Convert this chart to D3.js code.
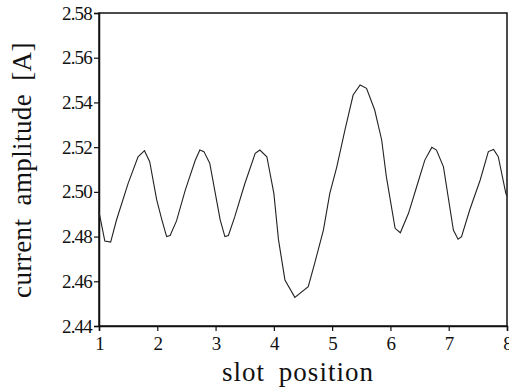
<!DOCTYPE html>
<html>
<head>
<meta charset="utf-8">
<script src="https://cdn.jsdelivr.net/npm/d3@7"></script>
<style>
  html, body { margin: 0; padding: 0; background: #fff; }
  svg { display: block; }
</style>
</head>
<body>
<svg></svg>
<script>
// values
const slotPos = [
  1.00, 1.10, 1.20, 1.30, 1.50, 1.67, 1.78, 1.87, 1.99, 2.08,
  2.16, 2.22, 2.33, 2.48, 2.65, 2.73, 2.80, 2.90, 3.08, 3.16,
  3.22, 3.33, 3.50, 3.68, 3.76, 3.88, 4.00, 4.08, 4.19, 4.36,
  4.59, 4.70, 4.85, 4.96, 5.08, 5.22, 5.36, 5.48, 5.59, 5.73,
  5.85, 5.93, 6.08, 6.17, 6.31, 6.45, 6.59, 6.71, 6.79, 6.91,
  7.08, 7.16, 7.22, 7.36, 7.54, 7.68, 7.77, 7.85, 7.98, 8.00
];
const amplitude = [
  2.4910, 2.4780, 2.4775, 2.4874, 2.5038, 2.5157, 2.5184, 2.5135, 2.4964, 2.4874,
  2.4800, 2.4805, 2.4870, 2.5008, 2.5140, 2.5187, 2.5180, 2.5128, 2.4874, 2.4800,
  2.4805, 2.4889, 2.5035, 2.5172, 2.5187, 2.5157, 2.4993, 2.4785, 2.4606, 2.4528,
  2.4576, 2.4680, 2.4829, 2.4993, 2.5112, 2.5277, 2.5433, 2.5478, 2.5463, 2.5366,
  2.5232, 2.5068, 2.4837, 2.4817, 2.4904, 2.5023, 2.5142, 2.5199, 2.5187, 2.5112,
  2.4829, 2.4788, 2.4800, 2.4919, 2.5053, 2.5180, 2.5190, 2.5157, 2.4993, 2.4980
];
const xTicks = [1, 2, 3, 4, 5, 6, 7, 8];
const yTicks = [2.44, 2.46, 2.48, 2.50, 2.52, 2.54, 2.56, 2.58];

const width = 509;
const height = 392;
const plotLeft = 99, plotRight = 507, plotTop = 13, plotBottom = 326;
const serif = '"Liberation Serif", "DejaVu Serif", serif';

const data = slotPos.map((x, i) => ({ x: x, y: amplitude[i] }));

const xScale = d3.scaleLinear()
  .domain([1, 8])
  .range([plotLeft, plotRight]);

const yScale = d3.scaleLinear()
  .domain([2.44, 2.58])
  .range([plotBottom, plotTop]);

const svg = d3.select('svg')
  .attr('width', width)
  .attr('height', height);

// frame
svg.append('rect')
  .attr('x', plotLeft)
  .attr('y', plotTop)
  .attr('width', plotRight - plotLeft)
  .attr('height', plotBottom - plotTop)
  .attr('fill', 'none')
  .attr('stroke', '#111')
  .attr('stroke-width', 1.5);

const xAxis = svg.append('g')
  .attr('transform', `translate(0,${plotBottom})`)
  .call(d3.axisBottom(xScale).tickValues(xTicks).tickSize(5).tickPadding(6).tickFormat(d3.format('d')));

const yAxis = svg.append('g')
  .attr('transform', `translate(${plotLeft},0)`)
  .call(d3.axisLeft(yScale).tickValues(yTicks).tickSize(5).tickPadding(2).tickFormat(d3.format('.2f')));

[xAxis, yAxis].forEach((g) => {
  g.attr('font-family', serif).attr('font-size', 19);
  g.select('.domain').attr('stroke', '#111').attr('stroke-width', 1.5);
  g.selectAll('.tick line').attr('stroke', '#111').attr('stroke-width', 1.2);
  g.selectAll('.tick text')
    .attr('fill', '#111')
    .attr('letter-spacing', '-0.8');
});

// the curve
const line = d3.line()
  .x((d) => xScale(d.x))
  .y((d) => yScale(d.y));

svg.append('path')
  .datum(data)
  .attr('fill', 'none')
  .attr('stroke', '#222')
  .attr('stroke-width', 1.1)
  .attr('d', line);

// axis titles
svg.append('text')
  .attr('x', 298)
  .attr('y', 381)
  .attr('text-anchor', 'middle')
  .attr('font-family', serif)
  .attr('font-size', 27)
  .attr('letter-spacing', 1)
  .attr('word-spacing', 6)
  .attr('fill', '#111')
  .text('slot position');

svg.append('text')
  .attr('transform', 'translate(31,170) rotate(-90)')
  .attr('text-anchor', 'middle')
  .attr('font-family', serif)
  .attr('font-size', 27)
  .attr('letter-spacing', 0.4)
  .attr('word-spacing', 6)
  .attr('fill', '#111')
  .text('current amplitude [A]');
</script>
</body>
</html>
